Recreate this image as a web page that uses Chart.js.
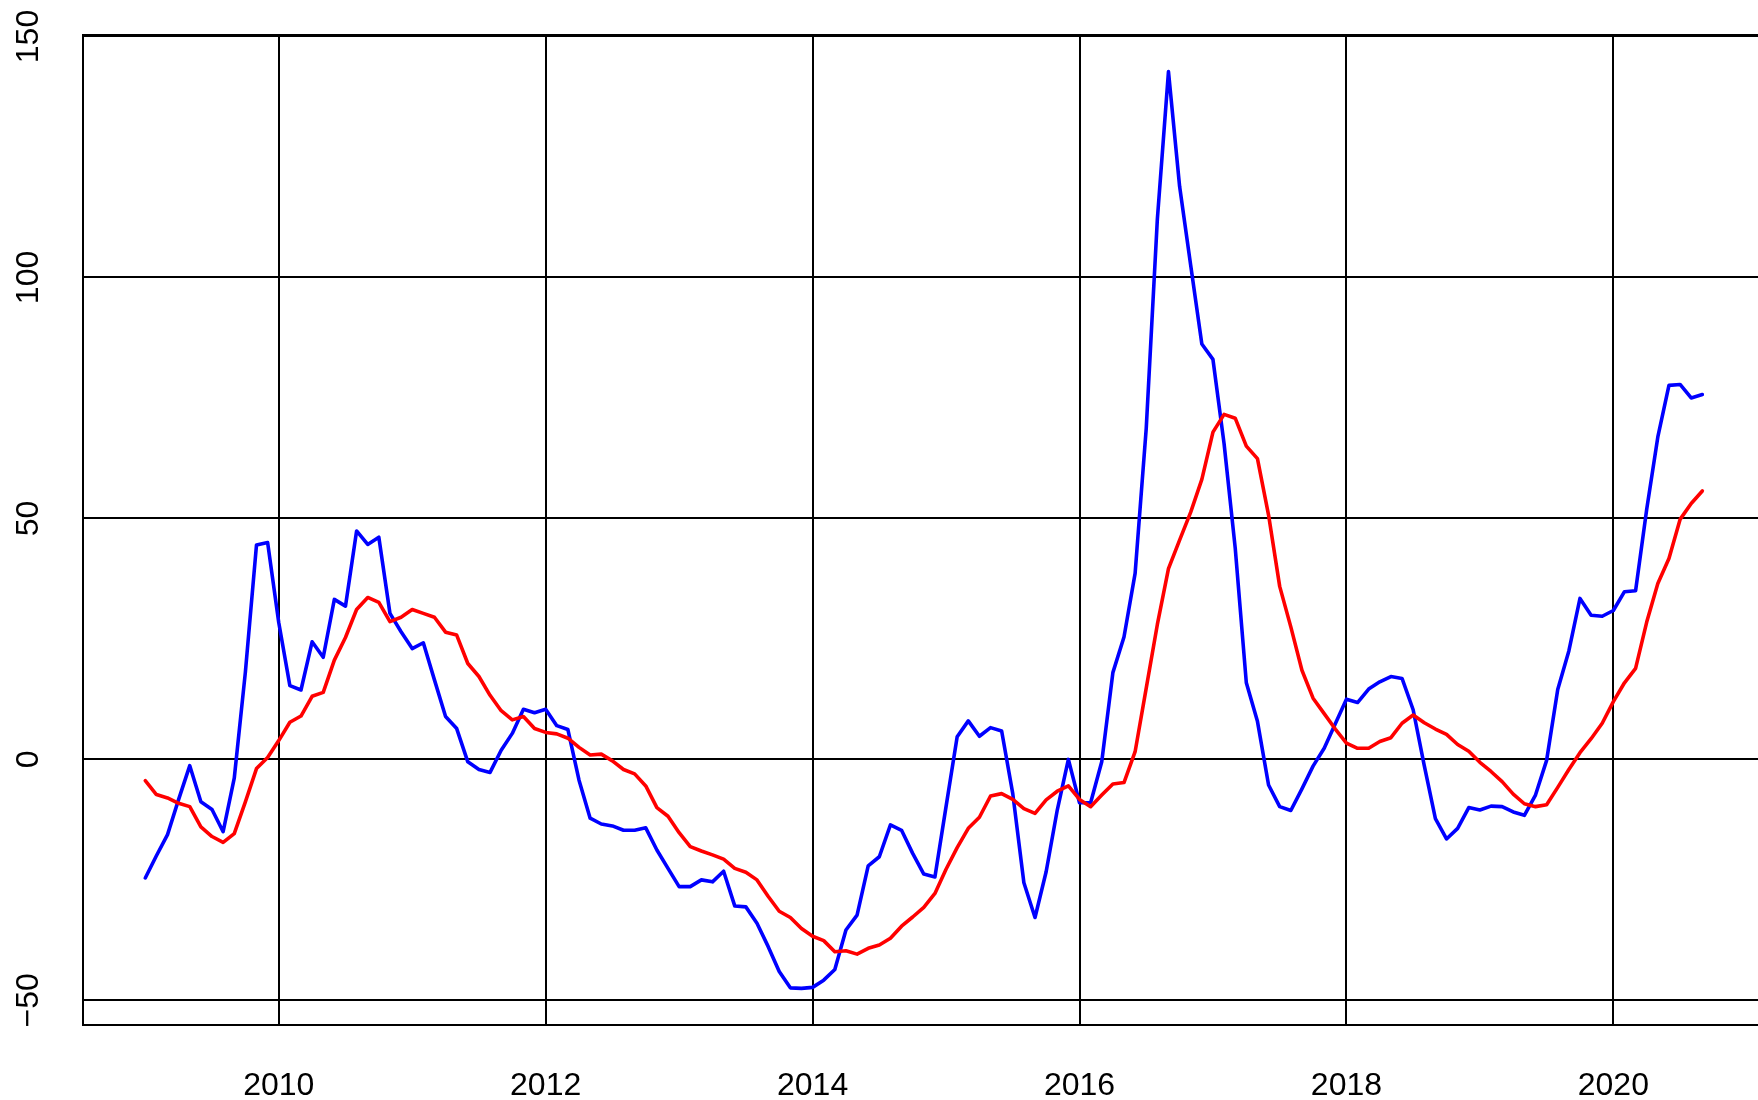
<!DOCTYPE html>
<html>
<head>
<meta charset="utf-8">
<script src="https://cdn.jsdelivr.net/npm/chart.js@4"></script>
<style>
  html, body { margin: 0; padding: 0; background: #fff; overflow: hidden; }
  #wrap { width: 1770px; height: 1100px; }
</style>
</head>
<body>
<div id="wrap"><canvas id="chart"></canvas></div>
<script>
// monthly series, Jan 2009 .. Sep 2020
const startYear = 2009;

const blueSeries = [
  -24.6, -20.0, -15.6, -8.3, -1.3, -8.8, -10.4, -15.0, -3.9, 18.1, 44.5, 45.0,
  28.4, 15.3, 14.4, 24.4, 21.2, 33.2, 31.8, 47.4, 44.6, 46.1, 30.3, 26.5,
  23.0, 24.2, 16.5, 8.9, 6.4, -0.5, -2.1, -2.7, 1.9, 5.4, 10.4, 9.7,
  10.4, 7.0, 6.2, -4.3, -12.2, -13.4, -13.8, -14.7, -14.7, -14.2, -18.8, -22.6,
  -26.4, -26.4, -25.0, -25.4, -23.2, -30.4, -30.6, -34.0, -38.8, -44.0, -47.4, -47.5,
  -47.3, -45.8, -43.6, -35.4, -32.3, -22.1, -20.2, -13.6, -14.7, -19.5, -23.8, -24.4,
  -9.8, 4.7, 8.0, 4.8, 6.6, 5.9, -7.1, -25.6, -32.8, -23.3, -10.5, 0.0,
  -9.0, -9.0, -0.5, 18.0, 25.4, 38.6, 68.7, 112.1, 142.7, 118.9, 102.5, 86.2,
  83.0, 65.5, 43.9, 15.9, 7.9, -5.3, -9.8, -10.6, -6.1, -1.4, 2.3, 7.4,
  12.5, 11.8, 14.6, 16.1, 17.2, 16.8, 10.3, -1.3, -12.3, -16.5, -14.3, -10.0,
  -10.5, -9.7, -9.8, -10.9, -11.6, -7.4, -0.2, 14.5, 22.5, 33.4, 29.9, 29.7,
  30.9, 34.8, 35.0, 51.9, 66.9, 77.6, 77.8, 75.0, 75.7
];

const redSeries = [
  -4.4, -7.3, -8.0, -9.1, -9.8, -14.0, -16.0, -17.2, -15.4, -8.8, -1.9, 0.4,
  3.9, 7.7, 9.0, 13.1, 13.9, 20.6, 25.3, 31.1, 33.6, 32.6, 28.6, 29.5,
  31.1, 30.3, 29.5, 26.4, 25.8, 19.9, 17.2, 13.3, 10.1, 8.2, 8.9, 6.4,
  5.6, 5.3, 4.4, 2.5, 0.9, 1.1, -0.3, -2.1, -3.0, -5.5, -10.0, -11.8,
  -15.2, -18.1, -19.0, -19.8, -20.7, -22.6, -23.4, -25.0, -28.4, -31.5, -32.8, -35.1,
  -36.7, -37.6, -39.9, -39.7, -40.4, -39.2, -38.5, -37.1, -34.6, -32.7, -30.7, -27.8,
  -22.8, -18.3, -14.3, -12.0, -7.6, -7.1, -8.3, -10.2, -11.2, -8.4, -6.6, -5.5,
  -8.3, -9.8, -7.4, -5.1, -4.8, 1.6, 14.8, 28.0, 39.6, 45.5, 51.3, 58.1,
  67.9, 71.6, 70.8, 65.0, 62.4, 50.7, 35.9, 27.5, 18.5, 12.7, 9.5, 6.3,
  3.4, 2.3, 2.3, 3.7, 4.5, 7.5, 9.2, 7.6, 6.3, 5.2, 3.1, 1.7,
  -0.6, -2.5, -4.6, -7.2, -9.2, -9.8, -9.4, -5.8, -2.1, 1.4, 4.3, 7.5,
  12.0, 15.9, 18.9, 28.5, 36.5, 41.7, 49.8, 53.1, 55.7
];

const xTicks = [2010, 2012, 2014, 2016, 2018, 2020];
const yTicks = [-50, 0, 50, 100, 150];
const yTickLabels = ['\u221250', '0', '50', '100', '150'];

window.onload = () => {
  const toPoints = arr => arr.map((v, i) => ({ x: startYear + i / 12, y: v }));

  // R-style 4% padding around the data range
  const first = startYear;
  const last = startYear + (blueSeries.length - 1) / 12;
  const xPad = (last - first) * 0.04;
  const all = blueSeries.concat(redSeries);
  const yLo = Math.min(...all), yHi = Math.max(...all);
  const yPad = (yHi - yLo) * 0.04;

  const FONT = '32px "Liberation Sans", Arial, Helvetica, sans-serif';

  // box and rotated tick labels like base R graphics
  const axisText = {
    id: 'axisText',
    afterDraw(chart) {
      const { ctx, chartArea, scales: { x, y } } = chart;
      ctx.save();
      ctx.strokeStyle = '#000';
      ctx.lineWidth = 2;
      ctx.strokeRect(chartArea.left, chartArea.top,
        chartArea.right - chartArea.left, chartArea.bottom - chartArea.top);

      ctx.fillStyle = '#000';
      ctx.font = FONT;
      ctx.textAlign = 'center';
      ctx.textBaseline = 'alphabetic';
      xTicks.forEach(v => {
        ctx.fillText(String(v), x.getPixelForValue(v), chartArea.bottom + 70);
      });
      yTicks.forEach((v, i) => {
        ctx.save();
        ctx.translate(38, y.getPixelForValue(v));
        ctx.rotate(-Math.PI / 2);
        ctx.fillText(yTickLabels[i], 0, 0);
        ctx.restore();
      });
      ctx.restore();
    }
  };

  new Chart(document.getElementById('chart'), {
    type: 'line',
    data: {
      datasets: [
        {
          label: 'blue',
          data: toPoints(blueSeries),
          borderColor: '#0000ff',
          borderWidth: 3.6,
          order: 2
        },
        {
          label: 'red',
          data: toPoints(redSeries),
          borderColor: '#ff0000',
          borderWidth: 3.6,
          order: 1
        }
      ]
    },
    options: {
      responsive: true,
      maintainAspectRatio: false,
      animation: false,
      events: [],
      layout: { padding: { top: 35, right: 5.4, left: 0, bottom: 0 } },
      elements: {
        point: { radius: 0 },
        line: { tension: 0, borderJoinStyle: 'round', borderCapStyle: 'round', fill: false }
      },
      plugins: {
        legend: { display: false },
        tooltip: { enabled: false }
      },
      scales: {
        x: {
          type: 'linear',
          min: first - xPad,
          max: last + xPad,
          afterBuildTicks: s => { s.ticks = xTicks.map(v => ({ value: v })); },
          afterFit: s => { s.height = 75; },
          ticks: { display: false },
          grid: { color: '#000', lineWidth: 2, drawTicks: false },
          border: { display: true, color: '#000', width: 2 }
        },
        y: {
          type: 'linear',
          min: yLo - yPad,
          max: yHi + yPad,
          afterBuildTicks: s => { s.ticks = yTicks.map(v => ({ value: v })); },
          afterFit: s => { s.width = 83; },
          ticks: { display: false },
          grid: { color: '#000', lineWidth: 2, drawTicks: false },
          border: { display: true, color: '#000', width: 2 }
        }
      }
    },
    plugins: [axisText]
  });
};
</script>
</body>
</html>
